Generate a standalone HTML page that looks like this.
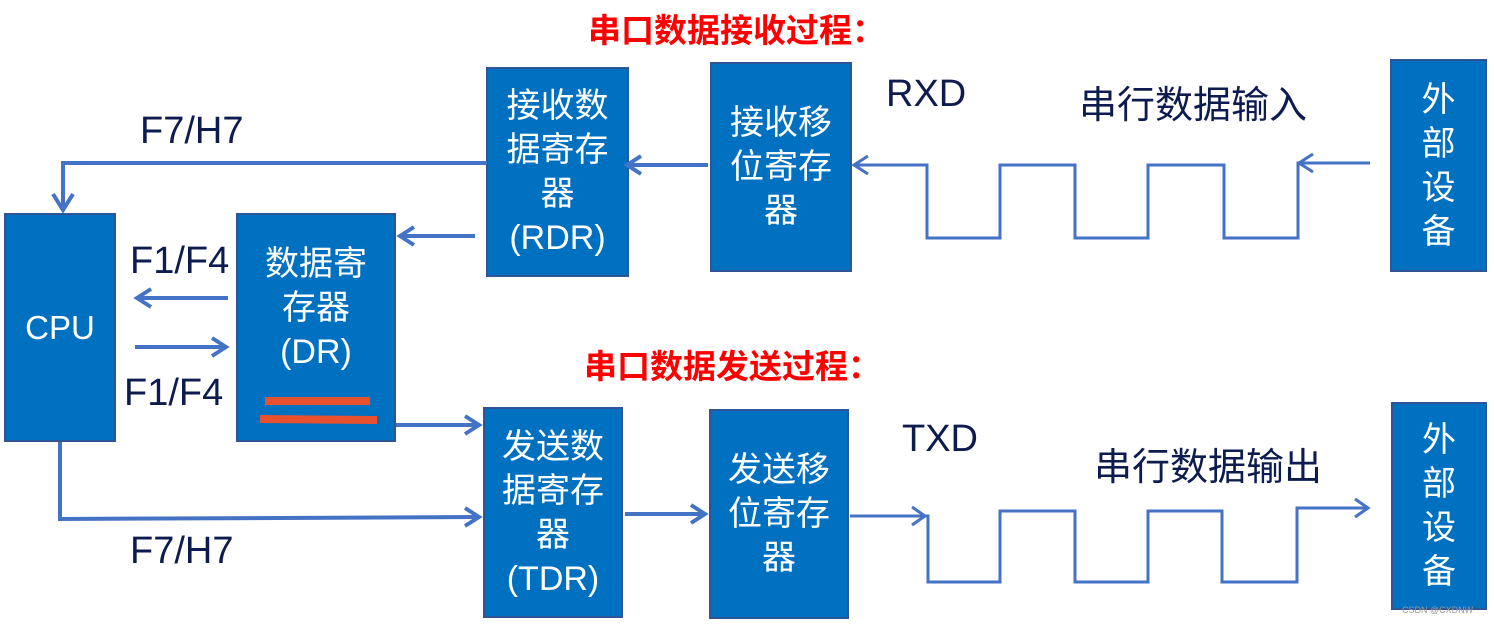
<!DOCTYPE html>
<html><head><meta charset="utf-8"><style>
body{margin:0;width:1494px;height:624px;background:#fff;overflow:hidden;position:relative;font-family:"Liberation Sans","Noto Sans CJK SC",sans-serif}
.b{position:absolute;background:#0070c0;border:2px solid #2f5597;box-sizing:border-box;color:#fff;display:flex;align-items:center;justify-content:center;text-align:center;font-size:34px;line-height:44px}
.t{position:absolute;color:#0d1b4f;font-size:38px;white-space:nowrap}
.r{position:absolute;color:#f00;font-size:33px;font-weight:bold;white-space:nowrap}
</style></head><body>
<div class="r" style="left:588px;top:4px">串口数据接收过程：</div>
<div class="r" style="left:584px;top:340px">串口数据发送过程：</div>
<div class="b" style="left:4px;top:213px;width:112px;height:229px;font-size:33px">CPU</div>
<div class="b" style="left:236px;top:213px;width:160px;height:229px;padding-bottom:40px">数据寄<br>存器<br>(DR)</div>
<div class="b" style="left:486px;top:67px;width:143px;height:210px">接收数<br>据寄存<br>器<br>(RDR)</div>
<div class="b" style="left:710px;top:62px;width:142px;height:210px">接收移<br>位寄存<br>器</div>
<div class="b" style="left:1390px;top:59px;width:97px;height:213px">外<br>部<br>设<br>备</div>
<div class="b" style="left:483px;top:407px;width:140px;height:211px">发送数<br>据寄存<br>器<br>(TDR)</div>
<div class="b" style="left:709px;top:409px;width:140px;height:210px">发送移<br>位寄存<br>器</div>
<div class="b" style="left:1391px;top:402px;width:96px;height:208px">外<br>部<br>设<br>备</div>
<div class="t" style="left:140px;top:110px">F7/H7</div>
<div class="t" style="left:130px;top:240px">F1/F4</div>
<div class="t" style="left:124px;top:372px">F1/F4</div>
<div class="t" style="left:130px;top:530px">F7/H7</div>
<div class="t" style="left:886px;top:73px">RXD</div>
<div class="t" style="left:902px;top:418px">TXD</div>
<div class="t" style="left:1079px;top:74px">串行数据输入</div>
<div class="t" style="left:1094px;top:436px">串行数据输出</div>
<svg style="position:absolute;left:0;top:0" width="1494" height="624">
<g stroke="#4472c4" stroke-width="4" fill="none">
<polyline points="487,163 63,163 63,210"/><polyline points="53,194 63,210 73,194"/>
<line x1="475" y1="236" x2="400" y2="236"/><polyline points="414,227 400,236 414,245"/>
<line x1="228" y1="298" x2="137" y2="298"/><polyline points="151,289 137,298 151,307"/>
<line x1="135" y1="347" x2="226" y2="347"/><polyline points="212,338 226,347 212,356"/>
<line x1="396" y1="425" x2="479" y2="425"/><polyline points="465,416 479,425 465,434"/>
<polyline points="60,442 60,519 479,517"/><polyline points="465,508 479,517 465,526"/>
<line x1="708" y1="165" x2="627" y2="165"/><polyline points="641,156 627,165 641,174"/>
<line x1="625" y1="514" x2="705" y2="514"/><polyline points="691,505 705,514 691,523"/>
<polyline stroke-width="3" points="854,165 927,165 927,238 1000,238 1000,165 1075,165 1075,238 1148,238 1148,165 1224,165 1224,238 1298,238 1298,163 1370,163"/>
<polyline stroke-width="3" points="868,156 854,165 868,174"/><polyline stroke-width="3" points="1313,154 1299,163 1313,172"/>
<polyline stroke-width="3" points="850,516 925,516 928,516 928,582 1000,582 1000,511 1075,511 1075,582 1148,582 1148,511 1222,511 1222,582 1297,582 1297,508 1368,508"/>
<polyline stroke-width="3" points="912,507 925,516 912,525"/><polyline stroke-width="3" points="1355,499 1368,508 1355,517"/>
</g>
<line x1="265" y1="401" x2="370" y2="401" stroke="#e8502e" stroke-width="8"/>
<line x1="260" y1="419" x2="377" y2="420" stroke="#e8502e" stroke-width="8"/>
<text x="1402" y="613" font-size="9" fill="#999" font-family="Liberation Sans">CSDN @CXDNW</text>
</svg>
</body></html>
